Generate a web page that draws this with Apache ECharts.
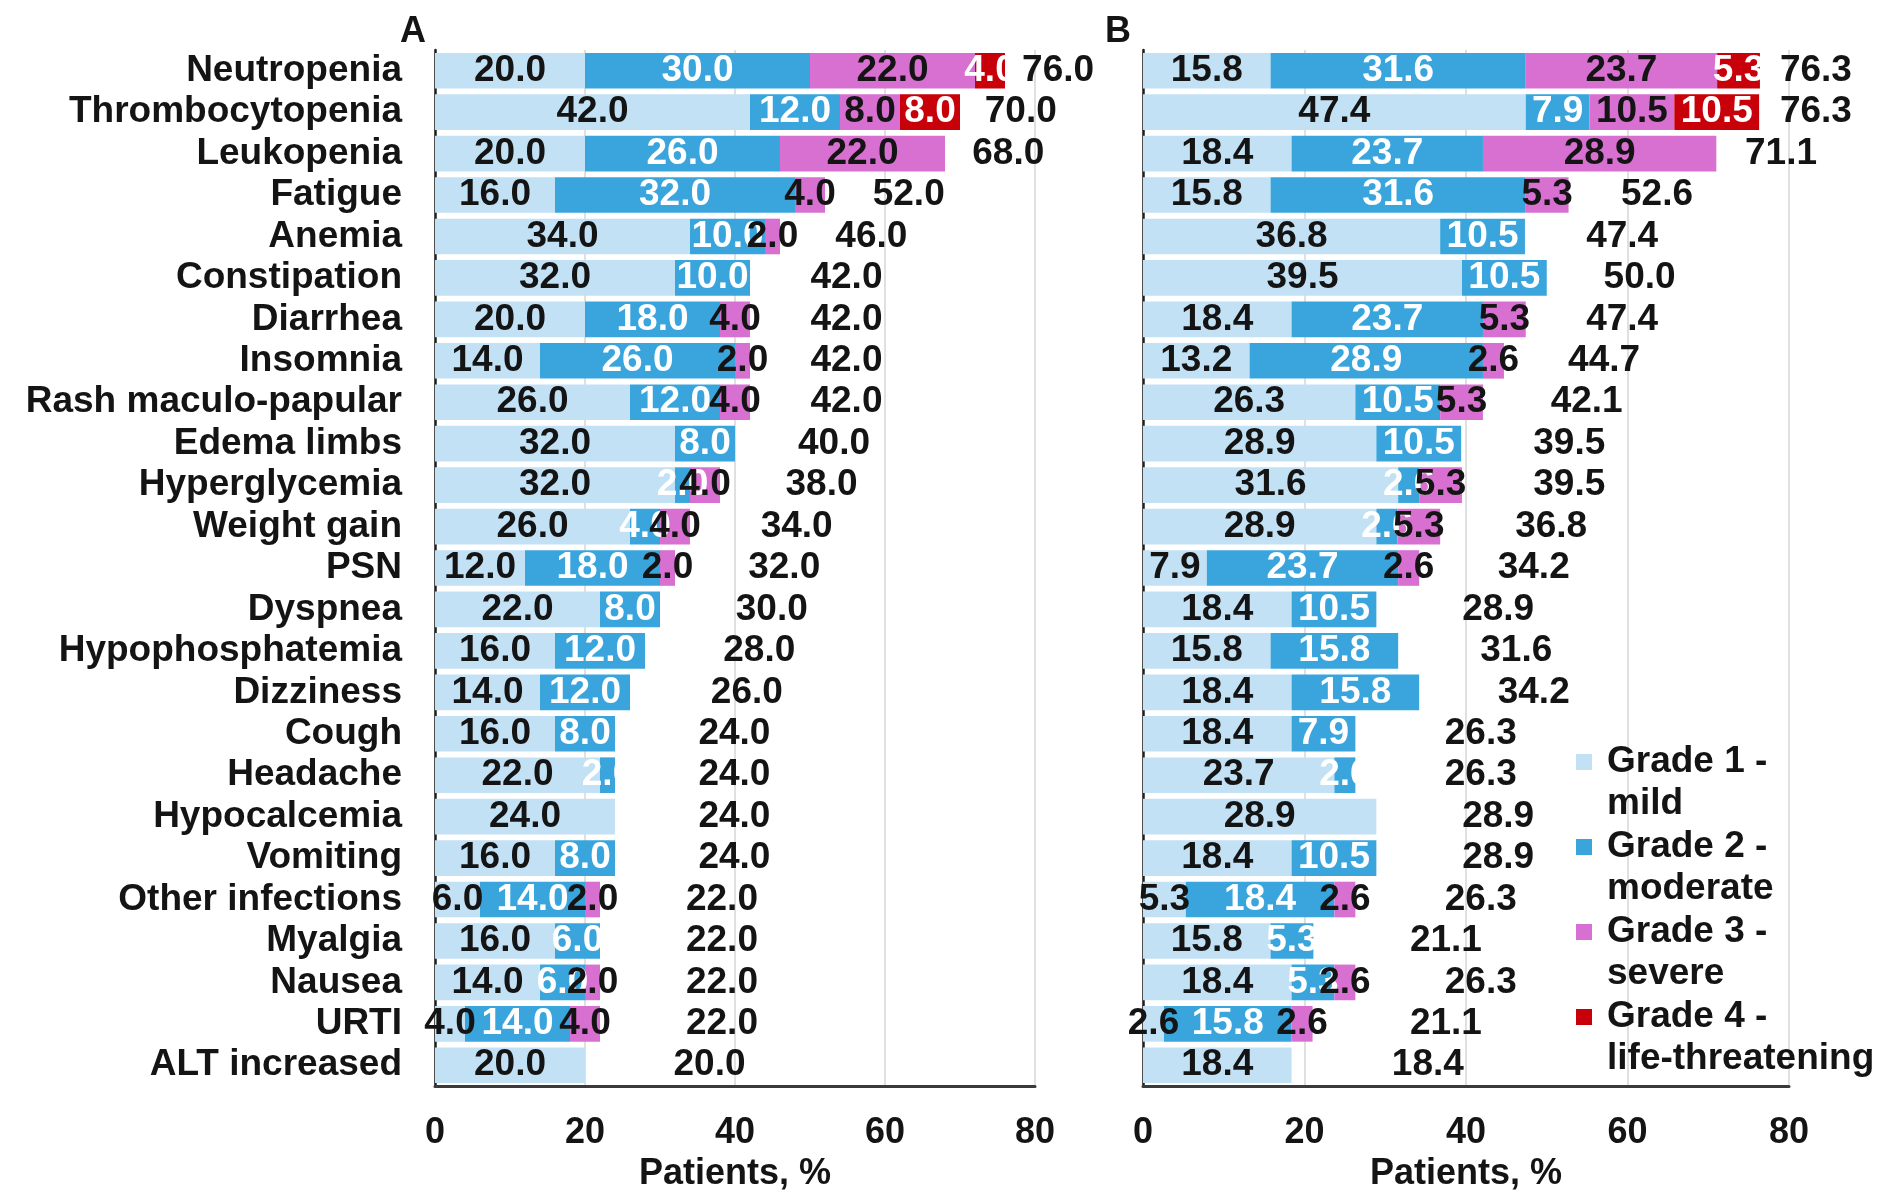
<!DOCTYPE html>
<html>
<head>
<meta charset="utf-8">
<title>Adverse events by grade</title>
<script src="https://cdn.jsdelivr.net/npm/echarts@6/dist/echarts.min.js"></script>
<style>
  html, body { margin: 0; padding: 0; background: #ffffff; }
  #chart { width: 1883px; height: 1197px; }
</style>
</head>
<body>
<div id="chart"></div>
<script>
// Adverse events, listed top to bottom
const categories = [
  'Neutropenia', 'Thrombocytopenia', 'Leukopenia', 'Fatigue', 'Anemia',
  'Constipation', 'Diarrhea', 'Insomnia', 'Rash maculo-papular', 'Edema limbs',
  'Hyperglycemia', 'Weight gain', 'PSN', 'Dyspnea', 'Hypophosphatemia',
  'Dizziness', 'Cough', 'Headache', 'Hypocalcemia', 'Vomiting',
  'Other infections', 'Myalgia', 'Nausea', 'URTI', 'ALT increased'
];

const gradeNames = ['Grade 1 - mild', 'Grade 2 - moderate', 'Grade 3 - severe', 'Grade 4 - life-threatening'];

// Panel A (% of patients)
const aGrade1 = [20.0, 42.0, 20.0, 16.0, 34.0, 32.0, 20.0, 14.0, 26.0, 32.0, 32.0, 26.0, 12.0, 22.0, 16.0, 14.0, 16.0, 22.0, 24.0, 16.0, 6.0, 16.0, 14.0, 4.0, 20.0];
const aGrade2 = [30.0, 12.0, 26.0, 32.0, 10.0, 10.0, 18.0, 26.0, 12.0, 8.0, 2.0, 4.0, 18.0, 8.0, 12.0, 12.0, 8.0, 2.0, 0, 8.0, 14.0, 6.0, 6.0, 14.0, 0];
const aGrade3 = [22.0, 8.0, 22.0, 4.0, 2.0, 0, 4.0, 2.0, 4.0, 0, 4.0, 4.0, 2.0, 0, 0, 0, 0, 0, 0, 0, 2.0, 0, 2.0, 4.0, 0];
const aGrade4 = [4.0, 8.0, 0, 0, 0, 0, 0, 0, 0, 0, 0, 0, 0, 0, 0, 0, 0, 0, 0, 0, 0, 0, 0, 0, 0];
const aTotal  = [76.0, 70.0, 68.0, 52.0, 46.0, 42.0, 42.0, 42.0, 42.0, 40.0, 38.0, 34.0, 32.0, 30.0, 28.0, 26.0, 24.0, 24.0, 24.0, 24.0, 22.0, 22.0, 22.0, 22.0, 20.0];

// Panel B (% of patients)
const bGrade1 = [15.8, 47.4, 18.4, 15.8, 36.8, 39.5, 18.4, 13.2, 26.3, 28.9, 31.6, 28.9, 7.9, 18.4, 15.8, 18.4, 18.4, 23.7, 28.9, 18.4, 5.3, 15.8, 18.4, 2.6, 18.4];
const bGrade2 = [31.6, 7.9, 23.7, 31.6, 10.5, 10.5, 23.7, 28.9, 10.5, 10.5, 2.6, 2.6, 23.7, 10.5, 15.8, 15.8, 7.9, 2.6, 0, 10.5, 18.4, 5.3, 5.3, 15.8, 0];
const bGrade3 = [23.7, 10.5, 28.9, 5.3, 0, 0, 5.3, 2.6, 5.3, 0, 5.3, 5.3, 2.6, 0, 0, 0, 0, 0, 0, 0, 2.6, 0, 2.6, 2.6, 0];
const bGrade4 = [5.3, 10.5, 0, 0, 0, 0, 0, 0, 0, 0, 0, 0, 0, 0, 0, 0, 0, 0, 0, 0, 0, 0, 0, 0, 0];
const bTotal  = [76.3, 76.3, 71.1, 52.6, 47.4, 50.0, 47.4, 44.7, 42.1, 39.5, 39.5, 36.8, 34.2, 28.9, 31.6, 34.2, 26.3, 26.3, 28.9, 28.9, 26.3, 21.1, 26.3, 21.1, 18.4];

const xTicks = [0, 20, 40, 60, 80];

const FONT = '"Liberation Sans", Arial, Helvetica, sans-serif';
const TEXT = '#141414';
const gradeColors = ['#c3e1f5', '#39a5dc', '#d870d1', '#c70009'];
const gradeLabelColors = [TEXT, '#ffffff', TEXT, '#ffffff'];

const chart = echarts.init(document.getElementById('chart'), null, { renderer: 'canvas' });

function gradeSeries(values, gi, panel) {
  return {
    name: gradeNames[gi],
    type: 'bar',
    stack: 'panel' + panel,
    xAxisIndex: panel,
    yAxisIndex: panel,
    barCategoryGap: '14%',
    itemStyle: { color: gradeColors[gi] },
    label: {
      show: true,
      position: 'inside',
      color: gradeLabelColors[gi],
      fontFamily: FONT,
      fontWeight: 'bold',
      fontSize: 37,
      formatter: p => p.value.toFixed(1)
    },
    data: values.map(v => (v > 0 ? v : '-'))
  };
}

// Total label sits a little to the right of each bar end; the gap narrows for long bars
function totalLabelGap(total) {
  return 20 - 0.17 * total;
}

function totalSeries(totals, panel) {
  return {
    type: 'custom',
    xAxisIndex: panel,
    yAxisIndex: panel,
    silent: true,
    clip: false,
    data: totals.map((t, i) => [t, i]),
    encode: { x: 0, y: 1 },
    renderItem: (params, api) => {
      const total = api.value(0);
      const pt = api.coord([total + totalLabelGap(total), api.value(1)]);
      return {
        type: 'text',
        x: pt[0],
        y: pt[1],
        style: {
          text: total.toFixed(1),
          fill: TEXT,
          font: 'bold 37px ' + FONT,
          align: 'center',
          verticalAlign: 'middle'
        }
      };
    }
  };
}

function xAxisFor(panel) {
  return {
    type: 'value',
    gridIndex: panel,
    min: xTicks[0],
    max: xTicks[xTicks.length - 1],
    interval: xTicks[1] - xTicks[0],
    name: 'Patients, %',
    nameLocation: 'middle',
    nameGap: 70,
    nameTextStyle: { color: TEXT, fontFamily: FONT, fontWeight: 'bold', fontSize: 36 },
    axisLine: { show: true, lineStyle: { color: '#3a3a3a', width: 3 } },
    axisTick: { show: false },
    axisLabel: { color: TEXT, fontFamily: FONT, fontWeight: 'bold', fontSize: 36, margin: 29 },
    splitLine: { show: true, lineStyle: { color: '#d6d6d6', width: 1.5 } }
  };
}

function yAxisFor(panel, showLabels) {
  return {
    type: 'category',
    gridIndex: panel,
    inverse: true,
    data: categories,
    axisLine: { show: true, lineStyle: { color: '#1e1e1e', width: 2.5 } },
    axisTick: { show: false },
    axisLabel: {
      show: showLabels,
      interval: 0,
      color: TEXT,
      fontFamily: FONT,
      fontWeight: 'bold',
      fontSize: 37,
      margin: 33
    }
  };
}

// Legend marker: a square near the top of a tall box, so it lines up with the first text line
const legendIcon = 'path://M0,13h16v16h-16z M0,0h0.05v0.05h-0.05z M0,83.95h0.05v0.05h-0.05z';

const option = {
  backgroundColor: '#ffffff',
  animation: false,
  grid: [
    { left: 435, top: 50, width: 600, height: 1040 },
    { left: 1143, top: 50, width: 646, height: 1040 }
  ],
  xAxis: [xAxisFor(0), xAxisFor(1)],
  yAxis: [yAxisFor(0, true), yAxisFor(1, false)],
  legend: {
    data: gradeNames,
    orient: 'vertical',
    left: 1576,
    top: 741,
    padding: 0,
    itemGap: 1,
    itemWidth: 16,
    itemHeight: 84,
    icon: legendIcon,
    selectedMode: false,
    formatter: name => name.replace(' - ', ' -\n'),
    textStyle: {
      color: TEXT,
      fontFamily: FONT,
      fontWeight: 'bold',
      fontSize: 37,
      lineHeight: 42,
      padding: [0, 0, 0, 10]
    }
  },
  graphic: [
    { type: 'text', x: 413, y: 32, style: { text: 'A', font: 'bold 36px ' + FONT, fill: TEXT, align: 'center', verticalAlign: 'middle' } },
    { type: 'text', x: 1118, y: 32, style: { text: 'B', font: 'bold 36px ' + FONT, fill: TEXT, align: 'center', verticalAlign: 'middle' } }
  ],
  series: [
    gradeSeries(aGrade1, 0, 0),
    gradeSeries(aGrade2, 1, 0),
    gradeSeries(aGrade3, 2, 0),
    gradeSeries(aGrade4, 3, 0),
    totalSeries(aTotal, 0),
    gradeSeries(bGrade1, 0, 1),
    gradeSeries(bGrade2, 1, 1),
    gradeSeries(bGrade3, 2, 1),
    gradeSeries(bGrade4, 3, 1),
    totalSeries(bTotal, 1)
  ]
};

chart.setOption(option);
</script>
</body>
</html>
